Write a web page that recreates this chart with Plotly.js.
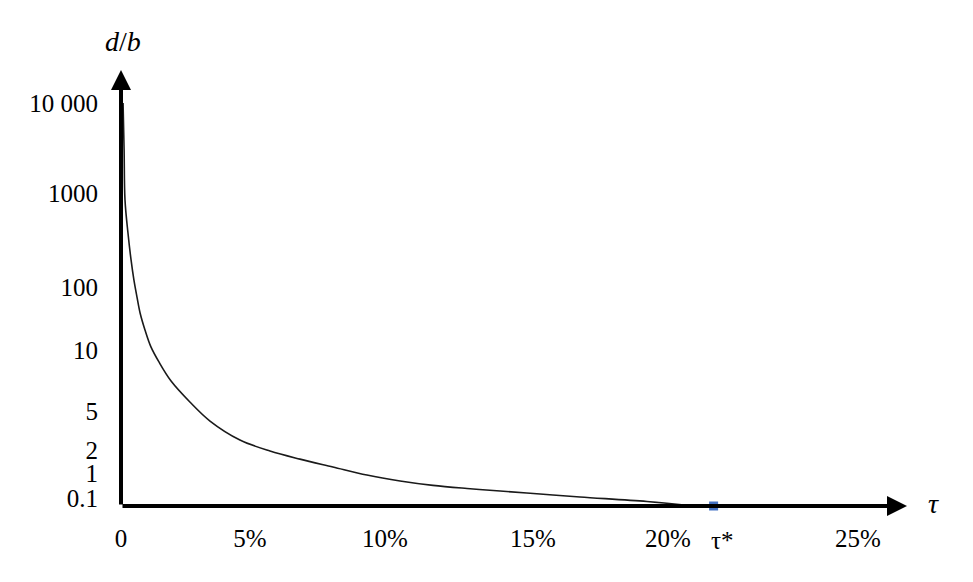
<!DOCTYPE html>
<html>
<head>
<meta charset="utf-8">
<script src="https://cdn.plot.ly/plotly-3.0.1.min.js"></script>
<style>
  html, body { margin: 0; padding: 0; background: #fff; }
  #chart { width: 973px; height: 582px; }
</style>
</head>
<body>
<div id="chart"></div>
<script>
(function () {
    'use strict';

    // curve: tau in %, d/b ratio
    const tauPct = [0.08, 0.12, 0.155, 0.27, 0.39, 0.5, 0.62, 0.74, 0.93, 1.16, 1.47, 1.94,
                    2.67, 3.45, 4.61, 5.74, 6.85, 8.07, 9.33, 10.51, 11.62, 12.77, 13.89,
                    15.26, 16.74, 19.22, 20.66];
    const dOverB = [10000, 3000, 840, 375, 194, 119, 69, 38.7, 20.8, 11.2, 8.73, 7.03,
                    5.54, 3.95, 2.53, 1.94, 1.52, 1.2, 0.83, 0.48, 0.32, 0.24, 0.19,
                    0.145, 0.11, 0.056, 0];
    const tauStar = 21.2;

    const xTickValues = [0, 5, 10, 15, 20, 25];
    const xTickLabels = ['0', '5%', '10%', '15%', '20%', '25%'];
    const yTickValues = [0.1, 1, 2, 5, 10, 100, 1000, 10000];
    const yTickLabels = ['0.1', '1', '2', '5', '10', '100', '1000', '10 000'];

    // the figure's axes are hand-spaced, not linear or log:
    // where each tick sits along its axis (axis units)
    const xStops = [0, 129, 264, 412, 547, 737];
    const yStops = [8, 33, 56, 95, 156, 219, 313, 403];
    const xLength = 786, yLength = 436;

    const xScale = function (t) {
        let i = 0;
        while (i < xTickValues.length - 2 && t > xTickValues[i + 1]) i++;
        const f = (t - xTickValues[i]) / (xTickValues[i + 1] - xTickValues[i]);
        return xStops[i] + f * (xStops[i + 1] - xStops[i]);
    };

    const yScale = function (v) {
        if (v <= yTickValues[0]) return v / yTickValues[0] * yStops[0];
        let i = 0;
        while (i < yTickValues.length - 2 && v > yTickValues[i + 1]) i++;
        const a = Math.log10(yTickValues[i]), b = Math.log10(yTickValues[i + 1]);
        const f = (Math.log10(v) - a) / (b - a);
        return yStops[i] + f * (yStops[i + 1] - yStops[i]);
    };

    const serif = 'Liberation Serif, Times New Roman, serif';

    const curve = {
        x: tauPct.map(xScale),
        y: dOverB.map(yScale),
        mode: 'lines',
        type: 'scatter',
        line: { color: '#1a1a1a', width: 1.6, shape: 'spline', smoothing: 1 },
        hoverinfo: 'skip'
    };
    const star = {
        x: [xScale(tauStar)],
        y: [0],
        mode: 'markers',
        type: 'scatter',
        marker: { symbol: 'square', size: 9, color: '#4472C4' },
        cliponaxis: false,
        hoverinfo: 'skip'
    };

    const arrow = function (x, y) {
        return {
            x: x, y: y, xref: 'x', yref: 'y',
            ax: 0, ay: 0, axref: 'x', ayref: 'y',
            showarrow: true, arrowhead: 2, arrowsize: 1, arrowwidth: 4,
            arrowcolor: '#000', text: ''
        };
    };

    const layout = {
        width: 973,
        height: 582,
        margin: { l: 121, r: 66, t: 70, b: 76 },
        paper_bgcolor: '#fff',
        plot_bgcolor: '#fff',
        showlegend: false,
        font: { family: serif, size: 25, color: '#000' },
        xaxis: {
            range: [0, xLength],
            showgrid: false, zeroline: false, showline: false,
            tickmode: 'array',
            tickvals: xTickValues.map(xScale),
            ticktext: xTickLabels,
            ticks: '',
            ticklabelstandoff: 15,
            tickfont: { family: serif, size: 25, color: '#000' }
        },
        yaxis: {
            range: [0, yLength],
            showgrid: false, zeroline: false, showline: false,
            tickmode: 'array',
            tickvals: yTickValues.map(yScale),
            ticktext: yTickLabels,
            ticks: '',
            ticklabelstandoff: 22,
            tickfont: { family: serif, size: 25, color: '#000' }
        },
        annotations: [
            arrow(xLength, 0),
            arrow(0, yLength),
            {
                text: '<i>d</i>/<i>b</i>', xref: 'paper', yref: 'paper',
                x: 2 / xLength, y: 1 + 28 / yLength, xanchor: 'center', yanchor: 'middle',
                showarrow: false, font: { family: serif, size: 28, color: '#000' }
            },
            {
                text: '<i>τ</i>', xref: 'paper', yref: 'paper',
                x: 1 + 26 / xLength, y: 3 / yLength, xanchor: 'center', yanchor: 'middle',
                showarrow: false, font: { family: serif, size: 28, color: '#000' }
            },
            {
                text: 'τ*', xref: 'x', yref: 'paper',
                x: xScale(tauStar), y: -34 / yLength, xshift: 9,
                xanchor: 'center', yanchor: 'middle',
                showarrow: false, font: { family: serif, size: 25, color: '#000' }
            }
        ]
    };

    window.Plotly.newPlot('chart', [curve, star], layout, { staticPlot: true });
}());
</script>
</body>
</html>
